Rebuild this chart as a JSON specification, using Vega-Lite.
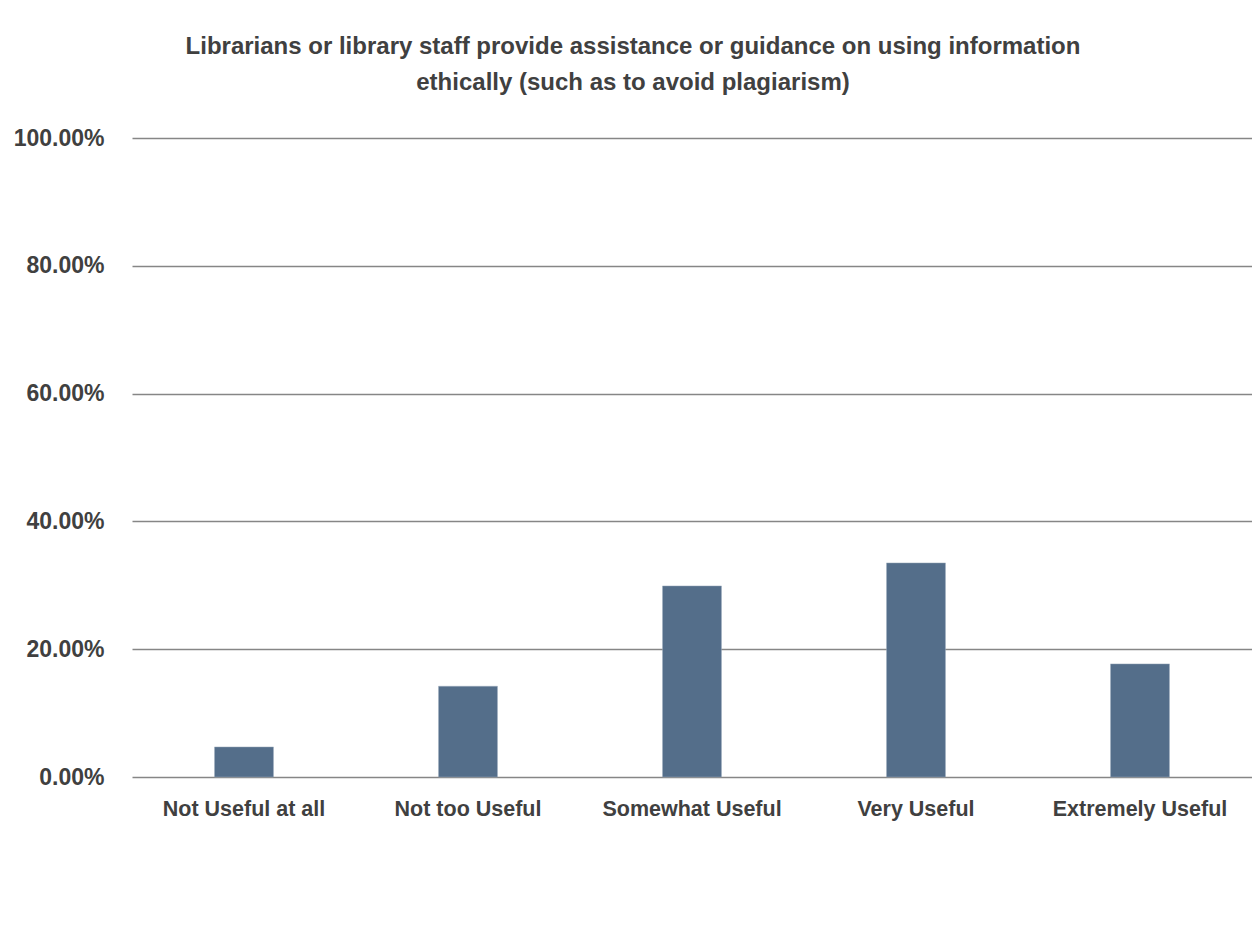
{
  "$schema": "https://vega.github.io/schema/vega-lite/v6.json",
  "autosize": "none",
  "width": 1120,
  "height": 639,
  "padding": {"left": 132, "top": 138, "right": 0, "bottom": 163},
  "background": "white",
  "title": {
    "text": ["Librarians or library staff provide assistance or guidance on using information", "ethically (such as to avoid plagiarism)"],
    "anchor": "middle",
    "dx": -59,
    "offset": 32,
    "font": "Liberation Sans",
    "fontSize": 24,
    "fontWeight": "bold",
    "color": "#404040",
    "lineHeight": 36
  },
  "data": {
    "values": [
      {"category": "Not Useful at all", "value": 0.047},
      {"category": "Not too Useful", "value": 0.142},
      {"category": "Somewhat Useful", "value": 0.299},
      {"category": "Very Useful", "value": 0.335},
      {"category": "Extremely Useful", "value": 0.177}
    ]
  },
  "mark": {"type": "bar", "color": "#546E8A", "stroke": "#9AAABB", "strokeWidth": 0.5},
  "encoding": {
    "x": {
      "field": "category",
      "type": "nominal",
      "sort": null,
      "scale": {"paddingInner": 0.737, "paddingOuter": 0.3685},
      "axis": {
        "title": null,
        "labelAngle": 0,
        "domain": false,
        "ticks": false,
        "labelPadding": 21,
        "labelLimit": 0,
        "labelFont": "Liberation Sans",
        "labelFontSize": 21.5,
        "labelFontWeight": "bold",
        "labelColor": "#404040"
      }
    },
    "y": {
      "field": "value",
      "type": "quantitative",
      "scale": {"domain": [0, 1], "nice": false},
      "axis": {
        "title": null,
        "values": [0, 0.2, 0.4, 0.6, 0.8, 1],
        "format": ".2%",
        "domain": false,
        "ticks": false,
        "grid": true,
        "gridColor": "#868686",
        "gridWidth": 1.5,
        "gridOpacity": 1,
        "labelPadding": 28,
        "labelFont": "Liberation Sans",
        "labelFontSize": 23,
        "labelFontWeight": "bold",
        "labelColor": "#404040"
      }
    }
  },
  "config": {"view": {"stroke": null}}
}
